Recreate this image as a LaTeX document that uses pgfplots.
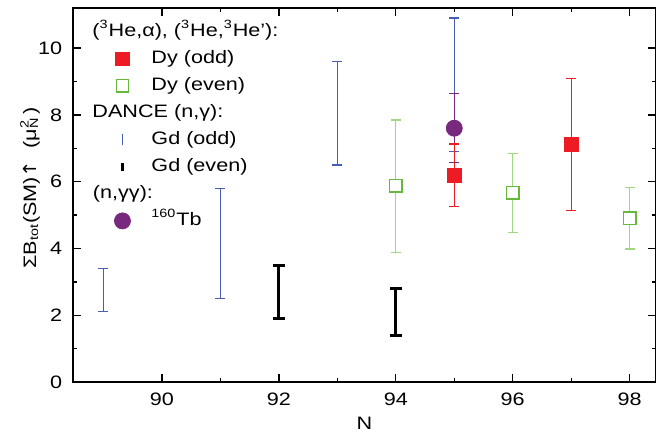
\documentclass[border=0pt]{standalone}
\usepackage{pgfplots}
\pgfplotsset{compat=1.18}
\usepackage{fontspec}
\setmainfont{Liberation Sans}[FakeStretch=1.2]
\newfontfamily\dejavu{DejaVu Sans}[FakeStretch=1.1]
\definecolor{dyred}{RGB}{237,28,36}
\definecolor{dygreen}{RGB}{100,185,60}
\definecolor{dygreenbar}{RGB}{160,215,130}
\definecolor{gdblue}{RGB}{70,95,180}
\definecolor{tbpurple}{RGB}{120,40,125}

\pgfplotstableread{
x y ep em
89 2.75 0.65 0.65
91 4.15 1.65 1.65
93 8.05 1.55 1.55
95 8.9 2.0 2.0
}\gdodd
\pgfplotstableread{
x y ep em
92 2.7 0.8 0.8
94 2.1 0.7 0.7
}\gdeven
\pgfplotstableread{
x y ep em
95 6.2 0.93 0.95
97 7.12 1.96 1.99
}\dyodd
\pgfplotstableread{
x y ep em
94 5.88 1.96 2.0
96 5.67 1.17 1.19
98 4.9 0.92 0.92
}\dyeven
\pgfplotstableread{
x y ep em
95 7.6 1.03 1.02
}\tb

\begin{document}
\fontsize{9}{11}\selectfont
\begin{tikzpicture}
\begin{axis}[
  scale only axis, width=291.5pt, height=187pt,
  xmin=88.48, xmax=98.45, ymin=0, ymax=11.2,
  xtick={90,92,...,98}, ytick={0,2,...,10},
  minor x tick num=1, minor y tick num=1,
  tick align=inside, major tick length=4pt, minor tick length=2pt,
  axis line style={line width=0.8pt}, tick style={line width=0.7pt, black},
  /pgf/number format/assume math mode=true,
  xticklabel style={yshift=-2.3pt},
  yticklabel style={xshift=-2.2pt},
  xlabel={N},
  xlabel style={at={(axis description cs:0.5,0)}, anchor=center, yshift=-20.5pt},
  ylabel={ΣB\textsubscript{tot}(SM){\dejavu ↑}\ \ (μ\rlap{\textsuperscript{2}}\textsubscript{N}\,)},
  ylabel style={at={(axis description cs:0,0.5)}, anchor=center, yshift=21.5pt, xshift=3.5pt},
  legend cell align=left,
  legend style={at={(0,1)}, anchor=north west, xshift=16pt, yshift=-5pt,
    draw=none, fill=none, inner sep=0pt, row sep=0pt, column sep=10.5pt,
    nodes={inner sep=0pt, text height=9pt, text depth=4.5pt}},
  error bars/y dir=both, error bars/y explicit,
]
% legend
\addlegendimage{empty legend}
\addlegendentry{\hspace{-29.5pt}(\textsuperscript{3}He,α), (\textsuperscript{3}He,\textsuperscript{3}He'):}
\addlegendimage{only marks, mark=square*, mark size=3.4pt, color=dyred}
\addlegendentry{Dy (odd)}
\addlegendimage{only marks, mark=square, mark size=3.1pt, color=dygreen, mark options={line width=0.7pt}}
\addlegendentry{Dy (even)}
\addlegendimage{empty legend}
\addlegendentry{\hspace{-29.5pt}DANCE (n,γ):}
\addlegendimage{legend image code/.code={\draw[gdblue, line width=0.5pt] (0.3cm,-2.75pt) -- (0.3cm,2.75pt);}}
\addlegendentry{Gd (odd)}
\addlegendimage{legend image code/.code={\draw[black, line width=1.4pt] (0.3cm,-2pt) -- (0.3cm,2pt);}}
\addlegendentry{Gd (even)}
\addlegendimage{empty legend}
\addlegendentry{\hspace{-29.5pt}(n,γγ):}
\addlegendimage{only marks, mark=*, mark size=4pt, color=tbpurple}
\addlegendentry{\textsuperscript{160}Tb}

% data
\addplot[forget plot, draw=none, mark=none,
  error bars/error bar style={draw=gdblue, line width=0.6pt},
  error bars/error mark options={rotate=90, draw=gdblue, mark size=2.5pt, line width=0.6pt}]
  table[x=x, y=y, y error plus=ep, y error minus=em]{\gdodd};
\addplot[forget plot, draw=none, mark=none,
  error bars/error bar style={draw=black, line width=1.4pt},
  error bars/error mark options={rotate=90, draw=black, mark size=3pt, line width=1.4pt}]
  table[x=x, y=y, y error plus=ep, y error minus=em]{\gdeven};
\addplot[forget plot, only marks, mark=square*, mark size=3.2pt,
  mark options={draw=dygreen, fill=white, line width=0.7pt},
  error bars/error bar style={draw=dygreenbar, line width=0.7pt},
  error bars/error mark options={rotate=90, draw=dygreenbar, mark size=2.5pt, line width=0.7pt}]
  table[x=x, y=y, y error plus=ep, y error minus=em]{\dyeven};
\addplot[forget plot, only marks, mark=*, mark size=4pt,
  mark options={draw=tbpurple, fill=tbpurple},
  error bars/error bar style={draw=tbpurple, line width=0.6pt},
  error bars/error mark options={rotate=90, draw=tbpurple, mark size=2.5pt, line width=0.6pt}]
  table[x=x, y=y, y error plus=ep, y error minus=em]{\tb};
\addplot[forget plot, only marks, mark=square*, mark size=3.5pt,
  mark options={draw=dyred, fill=dyred},
  error bars/error bar style={draw=dyred, line width=0.6pt},
  error bars/error mark options={rotate=90, draw=dyred, mark size=2.5pt, line width=0.6pt}]
  table[x=x, y=y, y error plus=ep, y error minus=em]{\dyodd};
\end{axis}
\pgfresetboundingbox
\path ([xshift=-36.5pt,yshift=-25pt]current axis.south west) rectangle ([yshift=4pt]current axis.north east);
\end{tikzpicture}
\end{document}
